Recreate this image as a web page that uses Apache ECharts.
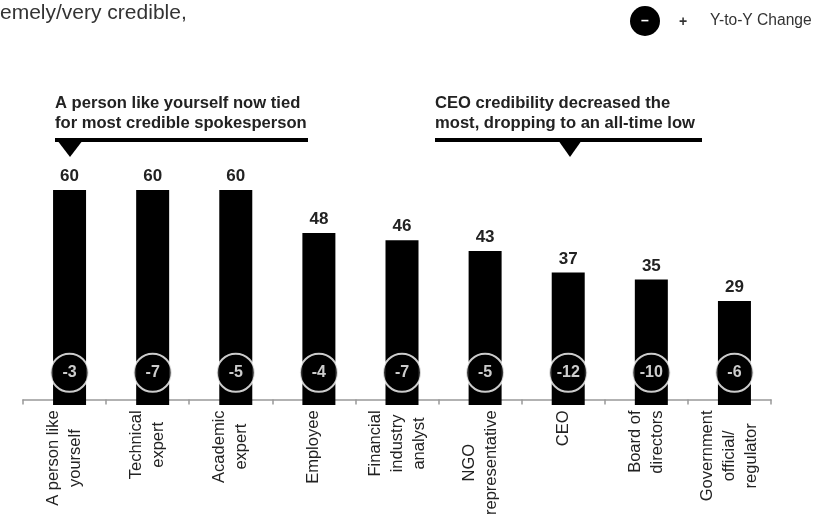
<!DOCTYPE html>
<html>
<head>
<meta charset="utf-8">
<script src="https://cdn.jsdelivr.net/npm/echarts@6/dist/echarts.min.js"></script>
<style>
  html, body { margin: 0; padding: 0; background: #fff; }
  #main { width: 813px; height: 518px; }
</style>
</head>
<body>
<div id="main"></div>
<script>
// spokesperson categories
var categories = [
  'A person like\nyourself',
  'Technical\nexpert',
  'Academic\nexpert',
  'Employee',
  'Financial\nindustry\nanalyst',
  'NGO\nrepresentative',
  'CEO',
  'Board of\ndirectors',
  'Government\nofficial/\nregulator'
];
// % extremely/very credible
var credible = [60, 60, 60, 48, 46, 43, 37, 35, 29];
// year-to-year change
var yoyChange = [-3, -7, -5, -4, -7, -5, -12, -10, -6];

var FONT = '"Liberation Sans", Arial, Helvetica, sans-serif';
var LABEL_SIZE = 16.5;

// lines of each rotated label are centred on each other, block starts at the axis:
// pad the shorter lines with an empty spacer token
var measureCtx = document.createElement('canvas').getContext('2d');
measureCtx.font = LABEL_SIZE + 'px ' + FONT;
var labelRich = {
  c: { fontSize: LABEL_SIZE, color: '#222', lineHeight: 22, fontFamily: FONT }
};
var labelText = categories.map(function (v, i) {
  var lines = v.split('\n');
  var widths = lines.map(function (s) { return measureCtx.measureText(s).width; });
  var maxW = Math.max.apply(null, widths);
  return lines.map(function (s, j) {
    var pad = (maxW - widths[j]) / 2;
    if (pad < 0.5) return '{c|' + s + '}';
    var key = 'p' + i + '_' + j;
    labelRich[key] = { width: pad, fontSize: LABEL_SIZE, lineHeight: 22 };
    return '{c|' + s + '}{' + key + '| }';
  }).join('\n');
});

var chart = echarts.init(document.getElementById('main'), null, { renderer: 'canvas' });

var option = {
  backgroundColor: '#fff',
  animation: false,
  textStyle: { fontFamily: FONT },
  grid: [
    // axis line, ticks, labels
    { left: 23, width: 748, top: 190, height: 215 },
    // bars + change circles (sit a bit right of the tick centres)
    { left: 28, width: 748, top: 190, height: 215 }
  ],
  xAxis: [
    {
      type: 'category',
      gridIndex: 0,
      data: categories,
      axisLine: { show: true, lineStyle: { color: '#999', width: 1.5 } },
      axisTick: { show: true, length: 5, lineStyle: { color: '#999', width: 1.5 } },
      axisLabel: {
        rotate: 90,
        margin: 11,
        interval: 0,
        fontSize: LABEL_SIZE,
        color: '#222',
        fontFamily: FONT,
        lineHeight: 22,
        formatter: function (v, idx) { return labelText[idx]; },
        rich: labelRich
      }
    },
    {
      type: 'category',
      gridIndex: 1,
      data: categories,
      axisLine: { show: false },
      axisTick: { show: false },
      axisLabel: { show: false }
    }
  ],
  yAxis: [
    { type: 'value', gridIndex: 0, min: 0, max: 60, show: false },
    { type: 'value', gridIndex: 1, min: 0, max: 60, show: false }
  ],
  series: [
    {
      type: 'bar',
      xAxisIndex: 1,
      yAxisIndex: 1,
      data: credible,
      barWidth: 33,
      itemStyle: { color: '#000' },
      label: {
        show: true,
        position: 'top',
        distance: 5,
        fontSize: 17,
        fontWeight: 'bold',
        color: '#222',
        fontFamily: FONT
      }
    },
    {
      type: 'scatter',
      xAxisIndex: 1,
      yAxisIndex: 1,
      symbol: 'circle',
      symbolSize: 38,
      z: 5,
      data: yoyChange.map(function (v, i) { return [i, 9.0]; }),
      itemStyle: { color: '#000', borderColor: '#fff', borderWidth: 2 },
      label: {
        show: true,
        position: 'inside',
        fontSize: 16,
        fontWeight: 'bold',
        color: '#fff',
        fontFamily: FONT,
        formatter: function (p) { return String(yoyChange[p.dataIndex]); }
      }
    }
  ],
  graphic: [
    // cropped heading
    { type: 'text', left: 0, top: 3, style: { text: 'emely/very credible,', fontSize: 21, fill: '#333', fontFamily: FONT } },
    // legend
    { type: 'circle', shape: { cx: 645, cy: 21, r: 15 }, style: { fill: '#000' } },
    { type: 'text', x: 645, y: 21, style: { text: '–', fill: '#fff', fontSize: 14, fontWeight: 'bold', align: 'center', verticalAlign: 'middle', fontFamily: FONT } },
    { type: 'text', x: 683, y: 22, style: { text: '+', fill: '#333', fontSize: 14, fontWeight: 'bold', align: 'center', verticalAlign: 'middle', fontFamily: FONT } },
    { type: 'text', x: 710, y: 21, style: { text: 'Y-to-Y Change', fill: '#333', fontSize: 15.6, verticalAlign: 'middle', fontFamily: FONT } },
    // left annotation
    { type: 'text', x: 55, y: 93, style: { text: 'A person like yourself now tied\nfor most credible spokesperson', fill: '#222', fontSize: 16.6, fontWeight: 'bold', lineHeight: 20, fontFamily: FONT } },
    { type: 'rect', shape: { x: 55, y: 138, width: 253, height: 4 }, style: { fill: '#000' } },
    { type: 'polygon', shape: { points: [[57, 140], [83, 140], [70, 157]] }, style: { fill: '#000' } },
    // right annotation
    { type: 'text', x: 435, y: 93, style: { text: 'CEO credibility decreased the\nmost, dropping to an all-time low', fill: '#222', fontSize: 16.6, fontWeight: 'bold', lineHeight: 20, fontFamily: FONT } },
    { type: 'rect', shape: { x: 435, y: 138, width: 267, height: 4 }, style: { fill: '#000' } },
    { type: 'polygon', shape: { points: [[558, 140], [582, 140], [570, 157]] }, style: { fill: '#000' } }
  ]
};

chart.setOption(option);
</script>
</body>
</html>
